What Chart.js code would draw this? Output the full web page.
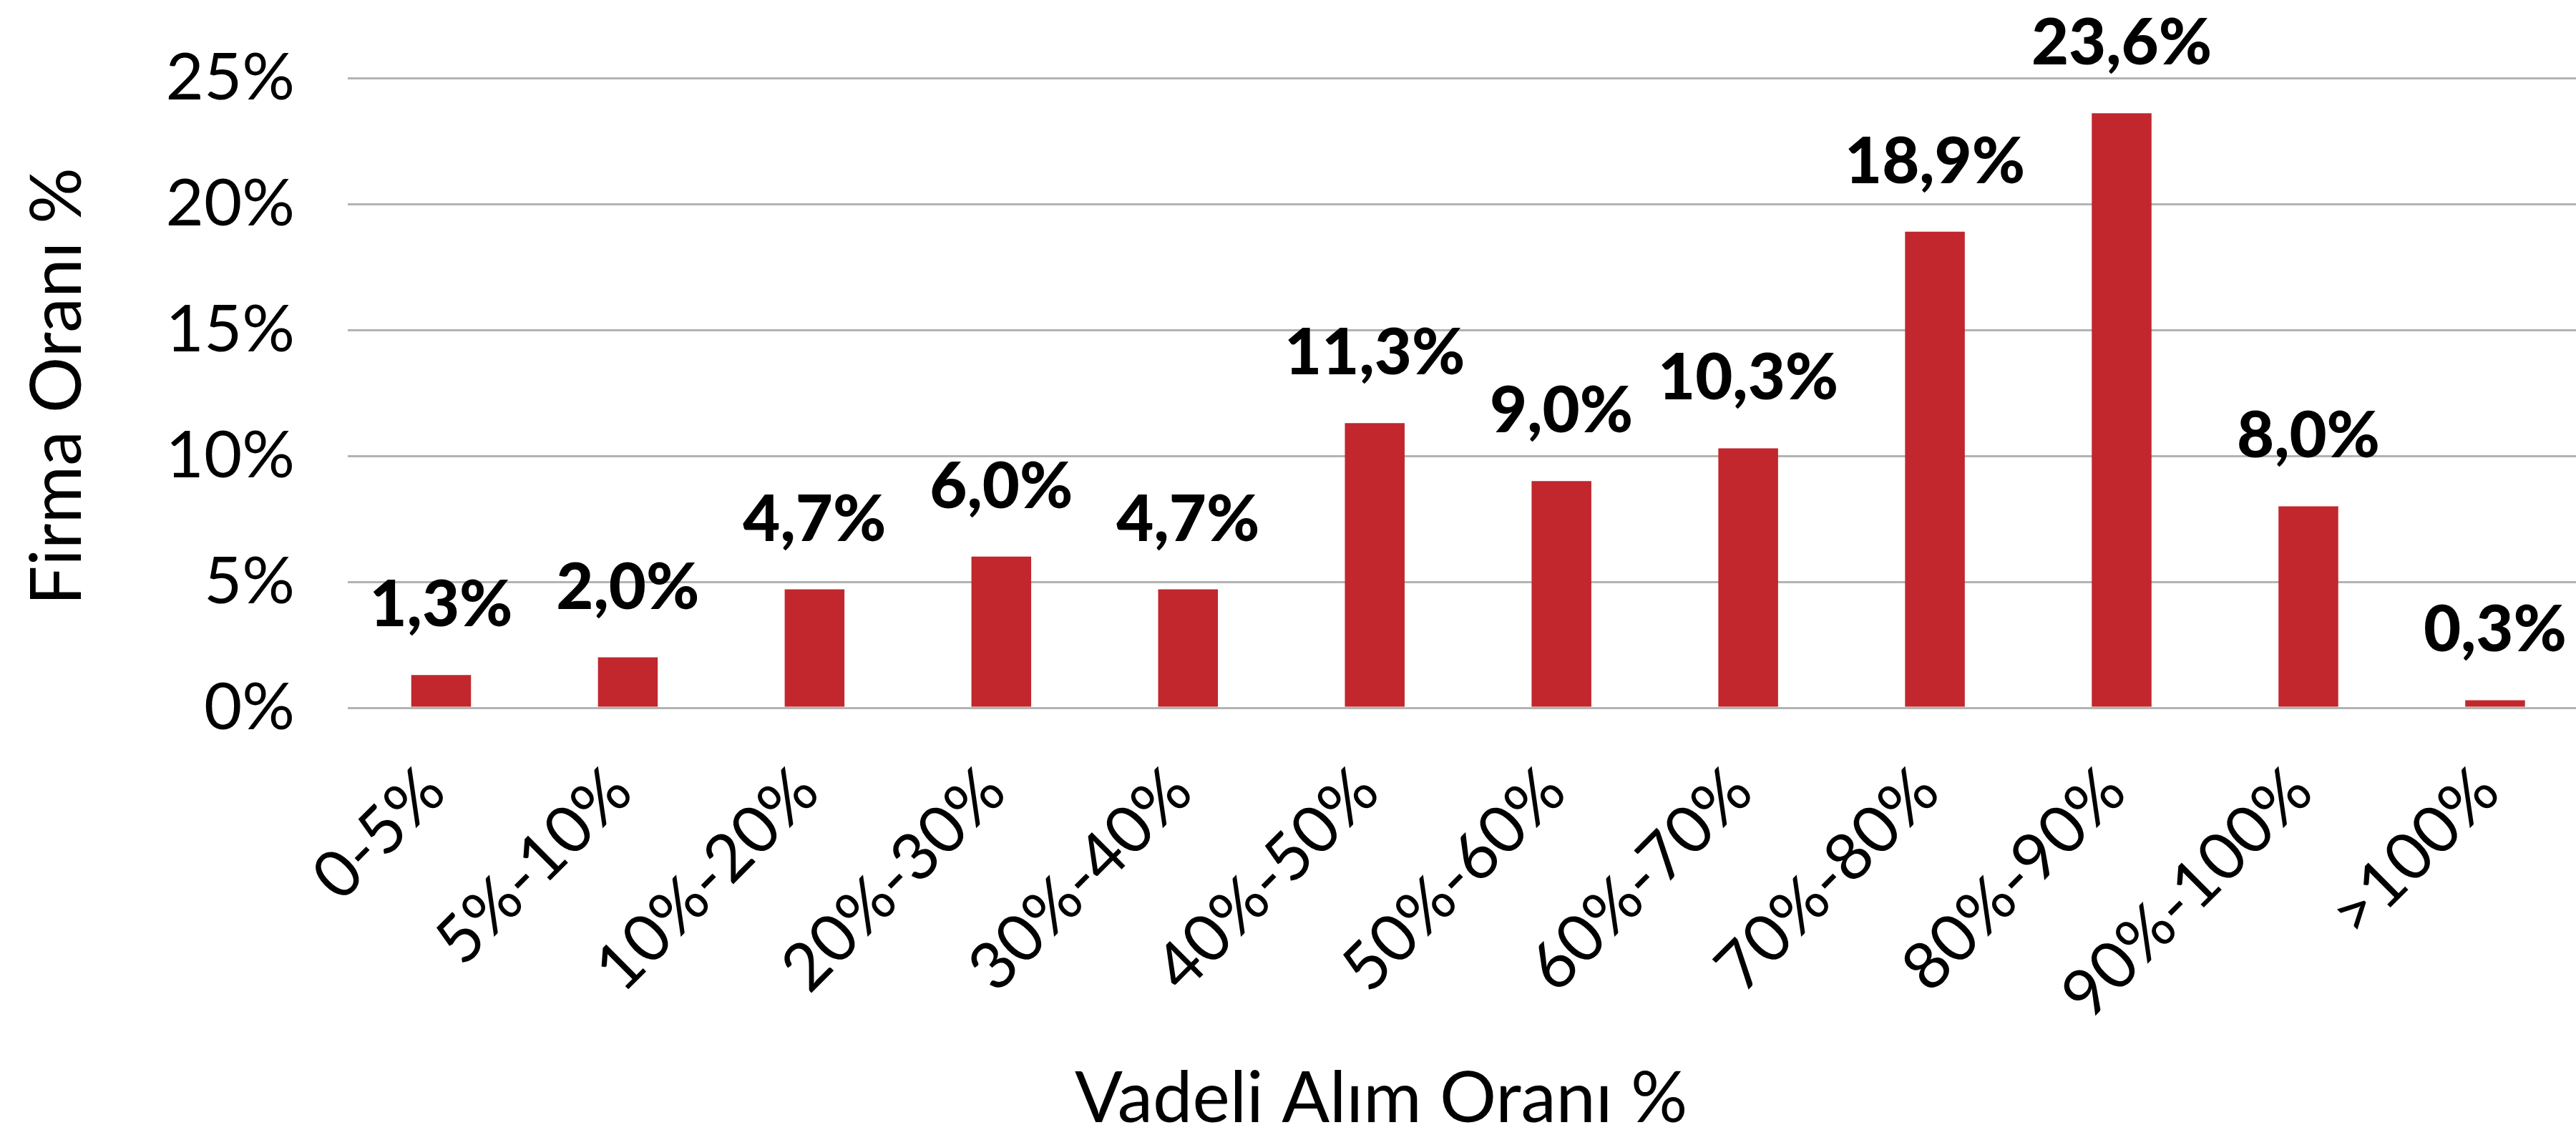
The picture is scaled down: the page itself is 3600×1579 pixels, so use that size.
<!DOCTYPE html>
<html>
<head>
<meta charset="utf-8">
<script src="https://cdn.jsdelivr.net/npm/chart.js@4.4.1/dist/chart.umd.min.js"></script>
<style>
html,body{margin:0;padding:0;background:#fff;overflow:hidden;width:3600px;height:1579px}
#wrap{position:absolute;left:0;top:0;width:3627px;height:1579px}
</style>
</head>
<body>
<div id="wrap"><canvas id="c" width="3627" height="1579"></canvas></div>
<script>
const categories = ["0-5%", "5%-10%", "10%-20%", "20%-30%", "30%-40%", "40%-50%", "50%-60%", "60%-70%", "70%-80%", "80%-90%", "90%-100%", ">100%"];
const values = [1.3, 2.0, 4.7, 6.0, 4.7, 11.3, 9.0, 10.3, 18.9, 23.6, 8.0, 0.3];
const yTickValues = [0, 5, 10, 15, 20, 25];
const yTitle = "Firma Oranı %";
const xTitle = "Vadeli Alım Oranı %";

const fmt = v => v.toFixed(1).replace('.', ',') + '%';

const textPlugin = {
  id: 'textPlugin',
  afterDatasetsDraw(chart) {
    const ctx = chart.ctx;
    const meta = chart.getDatasetMeta(0);
    ctx.save();
    ctx.fillStyle = '#000';
    ctx.font = '900 90px Lato';
    ctx.textAlign = 'center';
    ctx.textBaseline = 'alphabetic';
    meta.data.forEach((bar, i) => {
      ctx.fillText(fmt(values[i]), bar.x, bar.y - 68);
    });
    ctx.font = '99px Lato';
    ctx.textAlign = 'left';
    ctx.fillText(xTitle, 1502, 1568);
    ctx.translate(113, 540);
    ctx.rotate(-Math.PI / 2);
    ctx.textAlign = 'center';
    ctx.font = '98px Lato';
    ctx.fillText(yTitle, 0, 0);
    ctx.restore();
  }
};

new Chart(document.getElementById('c'), {
  type: 'bar',
  data: {
    labels: categories,
    datasets: [{
      data: values,
      backgroundColor: '#C1272D',
      borderWidth: 0,
      barPercentage: 0.32,
      categoryPercentage: 1
    }]
  },
  options: {
    responsive: false,
    devicePixelRatio: 1,
    animation: false,
    layout: { padding: { top: 109, left: 0, right: 0, bottom: 0 } },
    plugins: { legend: { display: false }, tooltip: { enabled: false } },
    scales: {
      x: {
        ticks: {
          minRotation: 45, maxRotation: 45, autoSkip: false,
          padding: 62, labelOffset: -10,
          color: '#000', font: { family: 'Lato', size: 92 }
        },
        grid: { display: false, drawTicks: false },
        border: { display: false },
        afterFit(scale) { scale.height = 590; }
      },
      y: {
        min: yTickValues[0], max: yTickValues[yTickValues.length - 1],
        afterBuildTicks(scale) { scale.ticks = yTickValues.map(v => ({ value: v })); },
        ticks: {
          padding: 74, color: '#000', font: { family: 'Lato', size: 92 },
          callback: v => v + '%'
        },
        grid: { color: '#B3B3B3', lineWidth: 3, drawTicks: false },
        border: { display: false },
        afterFit(scale) { scale.width = 486; scale.paddingTop = 0; scale.paddingBottom = 0; }
      }
    }
  },
  plugins: [textPlugin]
});
</script>
</body>
</html>
